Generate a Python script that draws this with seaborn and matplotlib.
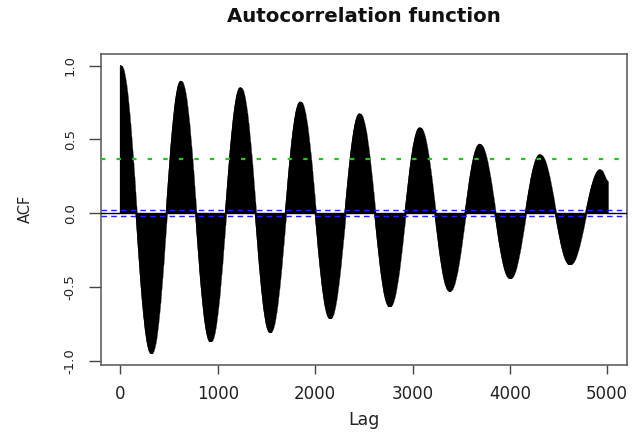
import numpy as np
import pandas as pd
import matplotlib
matplotlib.use("Agg")
import matplotlib.pyplot as plt
import seaborn as sns

# Extrema of the ACF (lag, value), plus the last lag
ext_lags = [0, 315, 619, 923, 1231, 1535, 1846, 2151, 2455, 2763, 3074,
            3379, 3689, 4000, 4308, 4615, 4927, 5000]
ext_vals = [1.0, -0.944, 0.893, -0.866, 0.850, -0.802, 0.753, -0.708, 0.673,
            -0.628, 0.579, -0.523, 0.467, -0.438, 0.397, -0.344, 0.295, 0.22]
ci_level = 0.0196          # blue dashed confidence bounds
green_level = 0.37         # green dotted reference line
x_ticks = [0, 1000, 2000, 3000, 4000, 5000]
y_ticks = [-1.0, -0.5, 0.0, 0.5, 1.0]
title = "Autocorrelation function"
xlabel = "Lag"
ylabel = "ACF"

# Build the per-lag ACF (one spike per lag) with smooth lobes between extrema
lags = np.arange(ext_lags[0], ext_lags[-1] + 1)
acf = np.empty(len(lags), dtype=float)
for i in range(len(ext_lags) - 1):
    l0, l1 = ext_lags[i], ext_lags[i + 1]
    v0, v1 = ext_vals[i], ext_vals[i + 1]
    sel = (lags >= l0) & (lags <= l1)
    t = (lags[sel] - l0) / (l1 - l0)
    acf[sel] = v0 + (v1 - v0) * (1 - np.cos(np.pi * t)) / 2
df = pd.DataFrame({"lag": lags, "acf": acf})

sns.set_style("white")
plt.rcParams["font.family"] = ["DejaVu Sans"]

fig = plt.figure(figsize=(6.38, 4.34), dpi=100)
ax = fig.add_axes([101 / 638, 1 - 364.5 / 434, (626.7 - 101) / 638, (364.5 - 54) / 434])

ax.vlines(df["lag"], 0, df["acf"], color="black", linewidth=0.9)
sns.lineplot(data=df, x="lag", y="acf", ax=ax, color="black", linewidth=0.8,
             estimator=None, sort=False)

ax.axhline(0, color="black", linewidth=1.0, zorder=3)
ax.axhline(ci_level, color="#2020ff", linestyle=(0, (4, 3)), linewidth=1.0, zorder=3)
ax.axhline(-ci_level, color="#2020ff", linestyle=(0, (4, 3)), linewidth=1.0, zorder=3)
ax.axhline(green_level, color="#22c522", linestyle=(0, (2, 5)), linewidth=1.6, zorder=3)

xr = lags.max() - lags.min()
ax.set_xlim(lags.min() - 0.04 * xr, lags.max() + 0.04 * xr)
ymin, ymax = min(acf.min(), -ci_level), max(acf.max(), ci_level)
yr = ymax - ymin
ax.set_ylim(ymin - 0.04 * yr, ymax + 0.04 * yr)

ax.set_xticks(x_ticks)
ax.set_xticklabels([str(v) for v in x_ticks])
ax.set_yticks(y_ticks)
ax.set_yticklabels([f"{v:.1f}" for v in y_ticks], rotation=90, va="center")

for s in ax.spines.values():
    s.set_visible(True)
    s.set_color("#555555")
    s.set_linewidth(1.1)

ax.tick_params(axis="both", direction="out", width=1.0, color="#444444",
               labelcolor="#222222", bottom=True, left=True)
ax.tick_params(axis="x", length=6.5, pad=8, labelsize=12)
ax.tick_params(axis="y", length=8.5, pad=9, labelsize=9.5)

ax.set_xlabel(xlabel, fontsize=12.5, color="#222222", labelpad=6)
ax.set_ylabel(ylabel, fontsize=10.5, color="#222222", labelpad=22)
fig.text((101 + 626.7) / 2 / 638, 1 - 17 / 434, title, ha="center", va="center",
         fontsize=14.2, fontweight="bold", color="#111111")

fig.savefig("out.png", dpi=100)
